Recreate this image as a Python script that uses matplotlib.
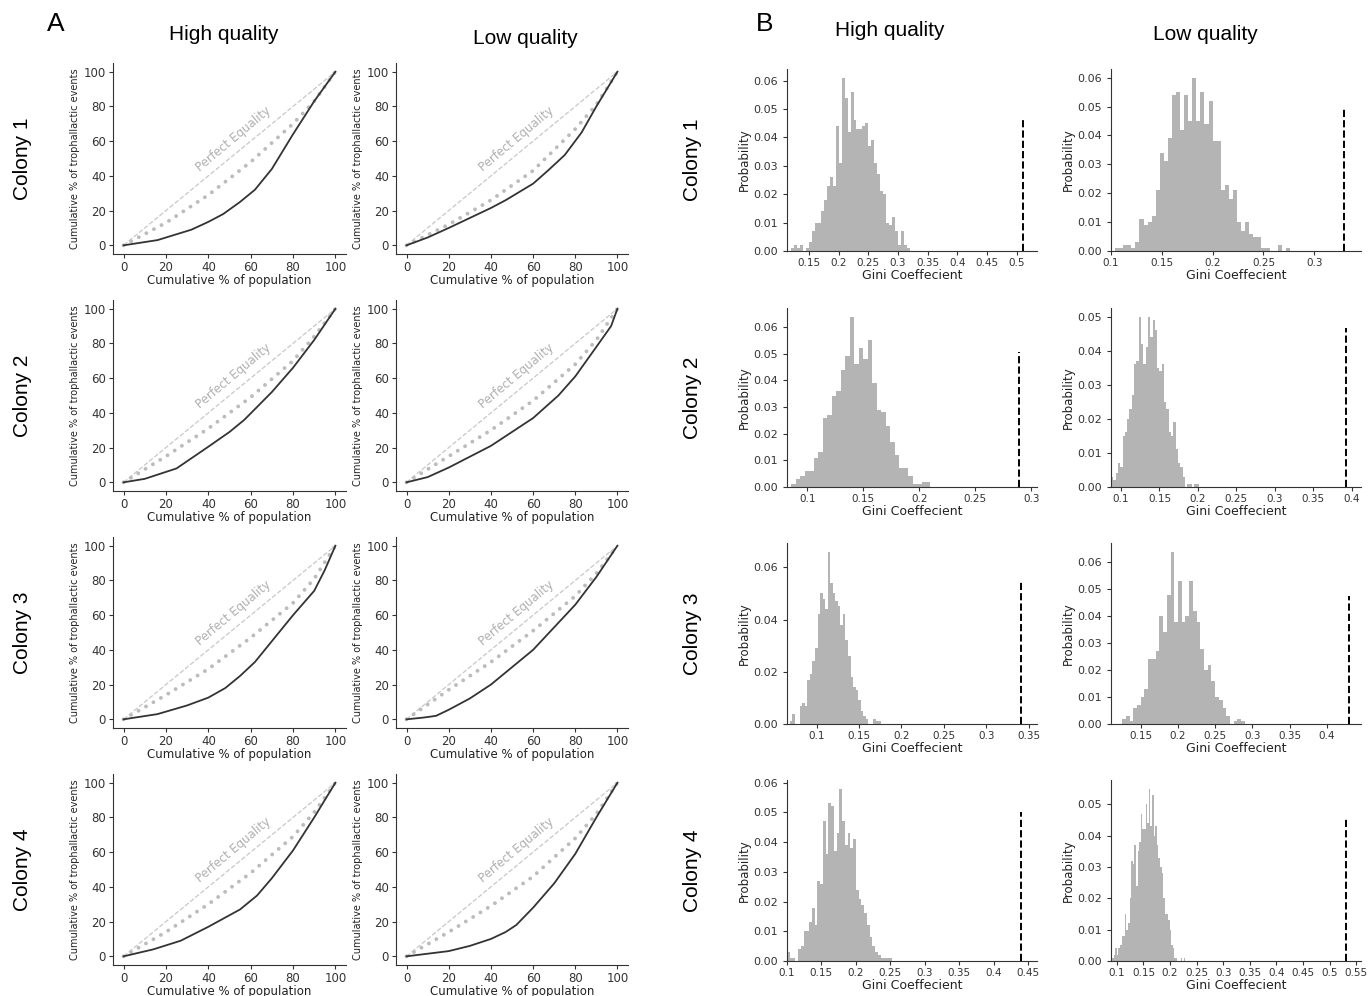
import numpy as np
import matplotlib
matplotlib.use("Agg")
import matplotlib.pyplot as plt

plt.rcParams['font.family'] = 'DejaVu Sans'

# ---- panel A: Lorenz curves (cumulative % of population vs % of events) ----
colonies = ['Colony 1', 'Colony 2', 'Colony 3', 'Colony 4']
qualities = ['High quality', 'Low quality']
equality_x = [0, 100]
equality_y = [0, 100]
xy_ticks = [0, 20, 40, 60, 80, 100]

c1_high_x = [0, 16, 32, 40, 47, 55, 62, 70, 80, 90, 100]
c1_high_y = [0, 3, 9, 13.5, 18, 25, 32, 44, 64, 83, 100]
c1_high_rx = [0, 20, 40, 60, 80, 90, 100]
c1_high_ry = [0, 13, 29, 48, 70, 83, 100]

c1_low_x = [0, 10, 20, 40, 47, 60, 67, 75, 83, 90, 100]
c1_low_y = [0, 4.5, 10, 21.5, 26, 35.5, 43, 52, 65, 80, 100]
c1_low_rx = [0, 20, 40, 60, 80, 90, 100]
c1_low_ry = [0, 12, 26, 43, 67, 81, 100]

c2_high_x = [0, 10, 20, 25, 40, 50, 57, 70, 80, 90, 100]
c2_high_y = [0, 2, 6, 8, 20.5, 29, 36, 52, 66, 82, 100]
c2_high_rx = [0, 20, 40, 60, 80, 90, 100]
c2_high_ry = [0, 15, 31, 49, 70, 84, 100]

c2_low_x = [0, 10, 20, 40, 60, 72, 80, 90, 97, 100]
c2_low_y = [0, 3, 8.5, 21, 37, 50, 61, 78, 90, 100]
c2_low_rx = [0, 20, 40, 60, 80, 90, 100]
c2_low_ry = [0, 15, 30, 47, 68, 82, 100]

c3_high_x = [0, 16, 30, 40, 48, 55, 62, 80, 90, 95, 100]
c3_high_y = [0, 3, 8, 12.5, 18, 25, 33, 60, 74, 86, 100]
c3_high_rx = [0, 20, 40, 60, 80, 90, 100]
c3_high_ry = [0, 14, 29, 47, 67, 81, 100]

c3_low_x = [0, 8, 14, 20, 30, 40, 50, 60, 70, 80, 90, 100]
c3_low_y = [0, 1, 2, 5.5, 12, 20, 30, 40, 53, 66, 82, 100]
c3_low_rx = [0, 20, 40, 60, 80, 90, 100]
c3_low_ry = [0, 17, 33, 51, 71, 84, 100]

c4_high_x = [0, 14, 27, 40, 55, 63, 70, 80, 90, 100]
c4_high_y = [0, 4, 9, 17, 27, 35, 45, 61, 80, 100]
c4_high_rx = [0, 20, 40, 60, 80, 90, 100]
c4_high_ry = [0, 14, 30, 48, 69, 83, 100]

c4_low_x = [0, 10, 20, 30, 40, 47, 52, 60, 70, 80, 90, 100]
c4_low_y = [0, 1.5, 3, 6, 10, 14, 18, 28, 42, 59, 80, 100]
c4_low_rx = [0, 20, 40, 60, 80, 90, 100]
c4_low_ry = [0, 14, 29, 46, 68, 82, 100]

# ---- panel B: null distributions of the Gini coefficient ----
c1_high_start, c1_high_w = 0.12, 0.005
c1_high_prob = [0.001, 0.002, 0.001, 0.002, 0.000, 0.001, 0.003, 0.007, 0.010, 0.010,
                0.014, 0.018, 0.023, 0.026, 0.023, 0.044, 0.031, 0.061, 0.054, 0.042,
                0.056, 0.046, 0.043, 0.043, 0.044, 0.045, 0.037, 0.039, 0.031, 0.027,
                0.021, 0.020, 0.010, 0.009, 0.012, 0.007, 0.002, 0.007, 0.002, 0.001]
c1_high_gini, c1_high_top = 0.51, 0.046

c1_low_start, c1_low_w = 0.104, 0.004
c1_low_prob = [0.001, 0.001, 0.002, 0.002, 0.001, 0.003, 0.011, 0.009, 0.010, 0.012,
               0.021, 0.034, 0.031, 0.039, 0.054, 0.055, 0.042, 0.054, 0.045, 0.060,
               0.045, 0.055, 0.044, 0.052, 0.038, 0.038, 0.021, 0.023, 0.018, 0.021,
               0.010, 0.007, 0.010, 0.006, 0.005, 0.005, 0.001, 0.001, 0.000, 0.000,
               0.002, 0.000, 0.001]
c1_low_gini, c1_low_top = 0.329, 0.050

c2_high_start, c2_high_w = 0.086, 0.004
c2_high_prob = [0.001, 0.003, 0.004, 0.006, 0.006, 0.011, 0.013, 0.026, 0.027, 0.034,
                0.036, 0.044, 0.049, 0.064, 0.046, 0.052, 0.048, 0.055, 0.039, 0.029,
                0.028, 0.023, 0.017, 0.012, 0.007, 0.007, 0.004, 0.001, 0.001, 0.002,
                0.002]
c2_high_gini, c2_high_top = 0.289, 0.0505

c2_low_start, c2_low_w = 0.087, 0.003
c2_low_prob = [0.003, 0.002, 0.004, 0.007, 0.006, 0.015, 0.016, 0.020, 0.023, 0.027,
               0.036, 0.037, 0.050, 0.042, 0.036, 0.041, 0.050, 0.044, 0.049, 0.046,
               0.035, 0.034, 0.036, 0.025, 0.023, 0.016, 0.015, 0.019, 0.011, 0.007,
               0.006, 0.003, 0.000, 0.001, 0.001, 0.000, 0.001, 0.001]
c2_low_gini, c2_low_top = 0.393, 0.0466

c3_high_start, c3_high_w = 0.068, 0.003
c3_high_prob = [0.001, 0.004, 0.000, 0.000, 0.007, 0.008, 0.007, 0.017, 0.019, 0.024,
                0.029, 0.042, 0.050, 0.048, 0.044, 0.066, 0.054, 0.050, 0.047, 0.045,
                0.038, 0.042, 0.032, 0.026, 0.018, 0.014, 0.013, 0.009, 0.005, 0.003,
                0.002, 0.000, 0.000, 0.002, 0.001, 0.001]
c3_high_gini, c3_high_top = 0.341, 0.0545

c3_low_start, c3_low_w = 0.125, 0.005
c3_low_prob = [0.002, 0.003, 0.001, 0.006, 0.007, 0.010, 0.013, 0.024, 0.024, 0.027,
               0.040, 0.034, 0.048, 0.064, 0.038, 0.053, 0.038, 0.040, 0.053, 0.042,
               0.038, 0.028, 0.020, 0.022, 0.016, 0.010, 0.009, 0.006, 0.003, 0.000,
               0.001, 0.002, 0.001]
c3_low_gini, c3_low_top = 0.43, 0.0477

c4_high_start, c4_high_w = 0.100, 0.004
c4_high_prob = [0.003, 0.001, 0.001, 0.000, 0.004, 0.005, 0.010, 0.010, 0.013, 0.018,
                0.012, 0.027, 0.026, 0.047, 0.036, 0.053, 0.052, 0.037, 0.043, 0.058,
                0.047, 0.039, 0.043, 0.038, 0.041, 0.024, 0.021, 0.019, 0.016, 0.012,
                0.008, 0.005, 0.003, 0.002, 0.001, 0.001, 0.001, 0.001]
c4_high_gini, c4_high_top = 0.44, 0.050

c4_low_start, c4_low_w = 0.091, 0.003
c4_low_prob = [0.001, 0.002, 0.004, 0.002, 0.004, 0.005, 0.008, 0.008, 0.015, 0.010,
               0.012, 0.020, 0.032, 0.031, 0.037, 0.024, 0.035, 0.038, 0.047, 0.042,
               0.042, 0.050, 0.044, 0.055, 0.043, 0.053, 0.040, 0.043, 0.037, 0.033,
               0.030, 0.028, 0.020, 0.015, 0.015, 0.013, 0.010, 0.005, 0.004, 0.001,
               0.001, 0.000, 0.000, 0.001, 0.000, 0.001]
c4_low_gini, c4_low_top = 0.53, 0.046

# axis ranges and ticks for panel B
hist_xlims = [(0.113, 0.534), (0.1, 0.346), (0.082, 0.305), (0.087, 0.412),
              (0.065, 0.36), (0.11, 0.446), (0.1, 0.463), (0.089, 0.559)]
hist_xticks = [[0.15, 0.2, 0.25, 0.3, 0.35, 0.4, 0.45, 0.5],
               [0.1, 0.15, 0.2, 0.25, 0.3],
               [0.1, 0.15, 0.2, 0.25, 0.3],
               [0.1, 0.15, 0.2, 0.25, 0.3, 0.35, 0.4],
               [0.1, 0.15, 0.2, 0.25, 0.3, 0.35],
               [0.15, 0.2, 0.25, 0.3, 0.35, 0.4],
               [0.1, 0.15, 0.2, 0.25, 0.3, 0.35, 0.4, 0.45],
               [0.1, 0.15, 0.2, 0.25, 0.3, 0.35, 0.4, 0.45, 0.5, 0.55]]
hist_yticks = [[0, 0.01, 0.02, 0.03, 0.04, 0.05, 0.06],
               [0, 0.01, 0.02, 0.03, 0.04, 0.05, 0.06],
               [0, 0.01, 0.02, 0.03, 0.04, 0.05, 0.06],
               [0, 0.01, 0.02, 0.03, 0.04, 0.05],
               [0, 0.02, 0.04, 0.06],
               [0, 0.01, 0.02, 0.03, 0.04, 0.05, 0.06],
               [0, 0.01, 0.02, 0.03, 0.04, 0.05, 0.06],
               [0, 0.01, 0.02, 0.03, 0.04, 0.05]]

lorenz = [
    [(c1_high_x, c1_high_y, c1_high_rx, c1_high_ry), (c1_low_x, c1_low_y, c1_low_rx, c1_low_ry)],
    [(c2_high_x, c2_high_y, c2_high_rx, c2_high_ry), (c2_low_x, c2_low_y, c2_low_rx, c2_low_ry)],
    [(c3_high_x, c3_high_y, c3_high_rx, c3_high_ry), (c3_low_x, c3_low_y, c3_low_rx, c3_low_ry)],
    [(c4_high_x, c4_high_y, c4_high_rx, c4_high_ry), (c4_low_x, c4_low_y, c4_low_rx, c4_low_ry)],
]
hists = [
    [(c1_high_start, c1_high_w, c1_high_prob, c1_high_gini, c1_high_top),
     (c1_low_start, c1_low_w, c1_low_prob, c1_low_gini, c1_low_top)],
    [(c2_high_start, c2_high_w, c2_high_prob, c2_high_gini, c2_high_top),
     (c2_low_start, c2_low_w, c2_low_prob, c2_low_gini, c2_low_top)],
    [(c3_high_start, c3_high_w, c3_high_prob, c3_high_gini, c3_high_top),
     (c3_low_start, c3_low_w, c3_low_prob, c3_low_gini, c3_low_top)],
    [(c4_high_start, c4_high_w, c4_high_prob, c4_high_gini, c4_high_top),
     (c4_low_start, c4_low_w, c4_low_prob, c4_low_gini, c4_low_top)],
]

W, H = 1372, 996
fig = plt.figure(figsize=(W / 100, H / 100), dpi=100)


def box(x0, y0, x1, y1):
    # pixel box (top-left origin) -> figure fraction rect
    return [x0 / W, 1 - y1 / H, (x1 - x0) / W, (y1 - y0) / H]


lorenz_cols = [(113, 346), (396, 628)]
lorenz_rows = [(63, 254), (300, 491), (537, 728), (774, 965)]
hist_cols = [(787, 1037), (1111, 1361)]
hist_rows = [(69, 251), (308, 487), (543, 724), (780, 961)]

head_font = 'Liberation Sans'
spine_col = '#333333'

for r in range(4):
    for c in range(2):
        # Lorenz panel
        ax = fig.add_axes(box(lorenz_cols[c][0], lorenz_rows[r][0], lorenz_cols[c][1], lorenz_rows[r][1]))
        lx, ly, rx, ry = lorenz[r][c]
        ax.plot(equality_x, equality_y, '--', color='#c8c8c8', lw=0.9)
        ax.plot(rx, ry, linestyle=(0, (0.01, 2.2)), color='#bcbcbc', lw=2.8,
                dash_capstyle='round', solid_capstyle='round')
        ax.plot(lx, ly, '-', color='#333333', lw=1.3)
        ax.text(52, 61, 'Perfect Equality', rotation=40, rotation_mode='anchor',
                ha='center', va='center', color='#b0b0b0', fontsize=8.5)
        ax.set_xlim(-5, 105)
        ax.set_ylim(-5, 105)
        ax.set_xticks(xy_ticks)
        ax.set_yticks(xy_ticks)
        ax.tick_params(labelsize=8.5, length=3, pad=2, colors=spine_col)
        ax.set_xlabel('Cumulative % of population', fontsize=8.5, labelpad=0, color='#222222')
        ax.set_ylabel('Cumulative % of trophallactic events', fontsize=7, labelpad=3, color='#222222')
        for s in ['top', 'right']:
            ax.spines[s].set_visible(False)
        for s in ['left', 'bottom']:
            ax.spines[s].set_color(spine_col)

        # Gini null-distribution panel
        k = r * 2 + c
        bx = fig.add_axes(box(hist_cols[c][0], hist_rows[r][0], hist_cols[c][1], hist_rows[r][1]))
        start, w, prob, gini, top = hists[r][c]
        edges = start + w * np.arange(len(prob) + 1)
        bx.hist(edges[:-1], bins=edges, weights=prob, color='#b4b4b4')
        bx.vlines(gini, 0, top, colors='black', linestyles='dashed', lw=1.4)
        bx.set_xlim(*hist_xlims[k])
        bx.set_ylim(0, max(prob) * 1.05)
        bx.set_xticks(hist_xticks[k])
        bx.set_xticklabels(['%g' % t for t in hist_xticks[k]])
        bx.set_yticks(hist_yticks[k])
        bx.set_yticklabels(['%.2f' % t for t in hist_yticks[k]])
        bx.tick_params(axis='y', labelsize=8, length=3, colors=spine_col)
        bx.tick_params(axis='x', labelsize=7.5, length=3, colors=spine_col, pad=2)
        bx.set_xlabel('Gini Coeffecient', fontsize=9, labelpad=1, color='#222222')
        bx.set_ylabel('Probability', fontsize=8.5, labelpad=2, color='#222222')
        for s in ['top', 'right']:
            bx.spines[s].set_visible(False)
        for s in ['left', 'bottom']:
            bx.spines[s].set_color(spine_col)

    # row labels
    yc = 1 - (lorenz_rows[r][0] + lorenz_rows[r][1]) / 2 / H
    fig.text(22 / W, yc, colonies[r], rotation=90, ha='center', va='center',
             fontsize=15, family=head_font)
    yh = 1 - (hist_rows[r][0] + hist_rows[r][1]) / 2 / H
    fig.text(692 / W, yh, colonies[r], rotation=90, ha='center', va='center',
             fontsize=15, family=head_font)

# column headers and panel letters
fig.text(224 / W, 1 - 34 / H, qualities[0], ha='center', va='center', fontsize=15, family=head_font)
fig.text(525 / W, 1 - 38 / H, qualities[1], ha='center', va='center', fontsize=15, family=head_font)
fig.text(890 / W, 1 - 31 / H, qualities[0], ha='center', va='center', fontsize=15, family=head_font)
fig.text(1205 / W, 1 - 34 / H, qualities[1], ha='center', va='center', fontsize=15, family=head_font)
fig.text(56 / W, 1 - 24 / H, 'A', ha='center', va='center', fontsize=19, family=head_font)
fig.text(765 / W, 1 - 24 / H, 'B', ha='center', va='center', fontsize=19, family=head_font)

fig.savefig('out.png', dpi=100)
